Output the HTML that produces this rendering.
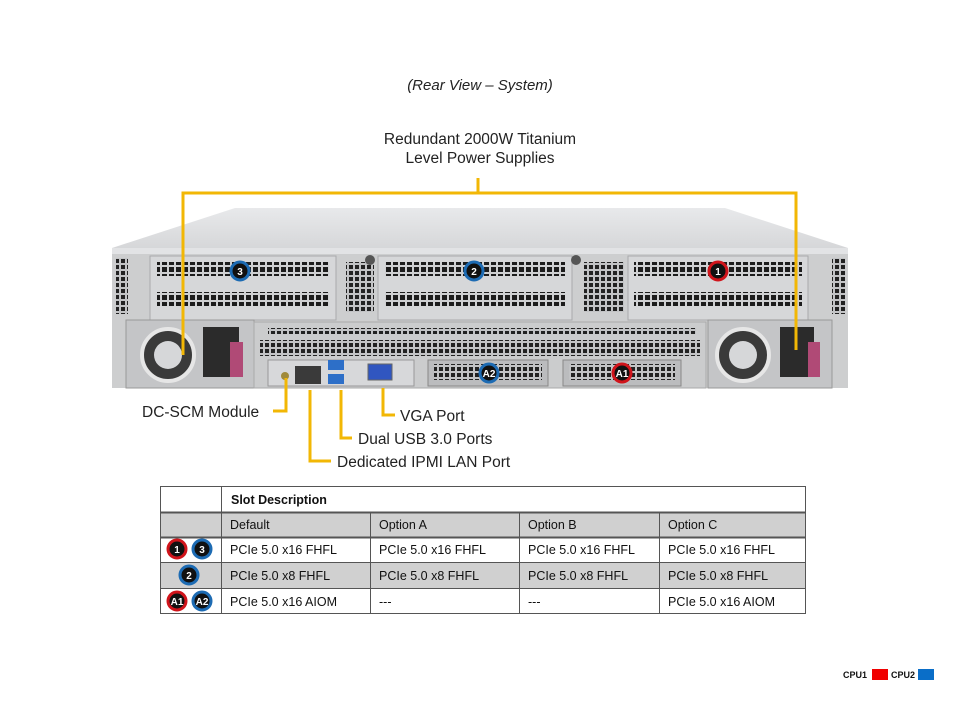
<!DOCTYPE html>
<html><head><meta charset="utf-8"><style>
body{margin:0;background:#fff;}
svg{display:block}
text{font-family:"Liberation Sans",Arial,sans-serif;}
</style></head><body>
<svg width="960" height="720" viewBox="0 0 960 720" xmlns="http://www.w3.org/2000/svg">
<defs>
<pattern id="g" x="0" y="0" width="7" height="7" patternUnits="userSpaceOnUse"><rect width="7" height="7" fill="#cfd0d2"/><rect x="1" y="1" width="5" height="5" fill="#1c1c1c"/></pattern>
<pattern id="g2" x="0" y="0" width="6" height="6" patternUnits="userSpaceOnUse"><rect width="6" height="6" fill="#c2c3c5"/><rect x="1" y="1" width="4" height="4" fill="#222"/></pattern>
<linearGradient id="lid" x1="0" y1="0" x2="0" y2="1"><stop offset="0" stop-color="#e8e9eb"/><stop offset="1" stop-color="#d6d7d9"/></linearGradient>
</defs>
<text x="480" y="90" font-size="15" font-style="italic" text-anchor="middle" fill="#222">(Rear View – System)</text>
<text x="480" y="144" font-size="15.5" text-anchor="middle" fill="#222">Redundant 2000W Titanium</text>
<text x="480" y="163" font-size="15.5" text-anchor="middle" fill="#222">Level Power Supplies</text>

<polygon points="235,208 725,208 848,248 112,248" fill="url(#lid)"/>
<rect x="112" y="248" width="736" height="140" fill="#cdcecf"/>
<rect x="112" y="248" width="736" height="6" fill="#e2e3e5"/>
<rect x="116" y="258" width="12" height="56" fill="url(#g2)"/>
<rect x="832" y="258" width="13" height="56" fill="url(#g2)"/>
<rect x="150" y="256" width="186" height="64" fill="#d6d7d9" stroke="#a9aaac"/>
<rect x="157" y="262" width="172" height="14" fill="url(#g)"/>
<rect x="157" y="292" width="172" height="14" fill="url(#g)"/>
<rect x="346" y="262" width="28" height="50" fill="url(#g2)"/>
<rect x="378" y="256" width="194" height="64" fill="#d6d7d9" stroke="#a9aaac"/>
<rect x="385" y="262" width="180" height="14" fill="url(#g)"/>
<rect x="385" y="292" width="180" height="14" fill="url(#g)"/>
<rect x="584" y="262" width="40" height="50" fill="url(#g2)"/>
<rect x="628" y="256" width="180" height="64" fill="#d6d7d9" stroke="#a9aaac"/>
<rect x="634" y="262" width="168" height="14" fill="url(#g)"/>
<rect x="634" y="292" width="168" height="14" fill="url(#g)"/>
<circle cx="370" cy="260" r="5" fill="#555"/><circle cx="576" cy="260" r="5" fill="#555"/>
<rect x="126" y="320" width="128" height="68" fill="#c4c5c7" stroke="#999"/>
<circle cx="168" cy="355" r="27" fill="#3a3a3a"/><circle cx="168" cy="355" r="14" fill="#d6d7d9"/>
<circle cx="168" cy="355" r="26" fill="none" stroke="#e6e6e6" stroke-width="4"/>
<rect x="203" y="327" width="36" height="50" fill="#2b2b2b"/>
<rect x="230" y="342" width="13" height="35" fill="#b04a76"/>
<rect x="708" y="320" width="124" height="68" fill="#c4c5c7" stroke="#999"/>
<circle cx="743" cy="355" r="27" fill="#3a3a3a"/><circle cx="743" cy="355" r="14" fill="#d6d7d9"/>
<circle cx="743" cy="355" r="26" fill="none" stroke="#e6e6e6" stroke-width="4"/>
<rect x="780" y="327" width="34" height="50" fill="#2b2b2b"/>
<rect x="808" y="342" width="12" height="35" fill="#b04a76"/>
<rect x="254" y="322" width="452" height="66" fill="#cbcccd" stroke="#aaa"/>
<rect x="268" y="328" width="428" height="6" fill="url(#g2)"/>
<rect x="260" y="340" width="440" height="16" fill="url(#g2)"/>
<rect x="268" y="360" width="146" height="26" fill="#d7d8da" stroke="#999"/>
<circle cx="285" cy="376" r="4" fill="#a08a3a"/>
<rect x="295" y="366" width="26" height="18" fill="#3a3a3a"/>
<rect x="328" y="360" width="16" height="10" fill="#2d6fc8"/>
<rect x="328" y="374" width="16" height="10" fill="#2d6fc8"/>
<rect x="368" y="364" width="24" height="16" fill="#3056c0" stroke="#666"/>
<rect x="428" y="360" width="120" height="26" fill="#bbbcbe" stroke="#888"/>
<rect x="434" y="364" width="108" height="16" fill="url(#g2)"/>
<rect x="563" y="360" width="118" height="26" fill="#bbbcbe" stroke="#888"/>
<rect x="569" y="364" width="106" height="16" fill="url(#g2)"/>
<g font-size="10" font-weight="bold" fill="#fff" text-anchor="middle">
<circle cx="240" cy="271" r="9" fill="#111" stroke="#1d6bb3" stroke-width="3"/><text x="240" y="275">3</text>
<circle cx="474" cy="271" r="9" fill="#111" stroke="#1d6bb3" stroke-width="3"/><text x="474" y="275">2</text>
<circle cx="718" cy="271" r="9" fill="#111" stroke="#d0141b" stroke-width="3"/><text x="718" y="275">1</text>
<circle cx="489" cy="373" r="9" fill="#111" stroke="#1d6bb3" stroke-width="3"/><text x="489" y="377">A2</text>
<circle cx="622" cy="373" r="9" fill="#111" stroke="#d0141b" stroke-width="3"/><text x="622" y="377">A1</text>
</g>

<g stroke="#f2b705" stroke-width="3" fill="none">
<line x1="478" y1="178" x2="478" y2="193"/>
<polyline points="183,355 183,193 796,193 796,350"/>
<polyline points="286,378 286,411 273,411"/>
<polyline points="310,390 310,461 331,461"/>
<polyline points="341,390 341,438 352,438"/>
<polyline points="383,388 383,415 395,415"/>
</g>
<g font-size="15.5" fill="#222">
<text x="142" y="417">DC-SCM Module</text>
<text x="400" y="421">VGA Port</text>
<text x="358" y="444">Dual USB 3.0 Ports</text>
<text x="337" y="467">Dedicated IPMI  LAN Port</text>
</g>

<rect x="160" y="512" width="646" height="25" fill="#d0d0d0"/>
<rect x="160" y="562" width="646" height="26" fill="#d0d0d0"/>
<g stroke="#555" stroke-width="1" fill="none">
<rect x="160.5" y="486.5" width="645" height="127"/>
<line x1="160" y1="512.5" x2="806" y2="512.5" stroke-width="2"/>
<line x1="160" y1="537.5" x2="806" y2="537.5" stroke-width="2"/>
<line x1="160" y1="562.5" x2="806" y2="562.5"/>
<line x1="160" y1="588.5" x2="806" y2="588.5"/>
<line x1="221.5" y1="486" x2="221.5" y2="614"/>
<line x1="370.5" y1="512" x2="370.5" y2="614"/>
<line x1="519.5" y1="512" x2="519.5" y2="614"/>
<line x1="659.5" y1="512" x2="659.5" y2="614"/>
</g>
<g font-size="12.5" fill="#111">
<text x="231" y="504" font-weight="bold">Slot Description</text>
<text x="230" y="529">Default</text><text x="379" y="529">Option A</text><text x="528" y="529">Option B</text><text x="668" y="529">Option C</text>
<text x="230" y="554">PCIe 5.0 x16 FHFL</text><text x="379" y="554">PCIe 5.0 x16 FHFL</text><text x="528" y="554">PCIe 5.0 x16 FHFL</text><text x="668" y="554">PCIe 5.0 x16 FHFL</text>
<text x="230" y="580">PCIe 5.0 x8 FHFL</text><text x="379" y="580">PCIe 5.0 x8 FHFL</text><text x="528" y="580">PCIe 5.0 x8 FHFL</text><text x="668" y="580">PCIe 5.0 x8 FHFL</text>
<text x="230" y="606">PCIe 5.0 x16 AIOM</text><text x="379" y="606">---</text><text x="528" y="606">---</text><text x="668" y="606">PCIe 5.0 x16 AIOM</text>
</g>
<g font-size="10" font-weight="bold" fill="#fff" text-anchor="middle">
<circle cx="177" cy="549" r="9" fill="#111" stroke="#d0141b" stroke-width="3"/><text x="177" y="553">1</text>
<circle cx="202" cy="549" r="9" fill="#111" stroke="#1d6bb3" stroke-width="3"/><text x="202" y="553">3</text>
<circle cx="189" cy="575" r="9" fill="#111" stroke="#1d6bb3" stroke-width="3"/><text x="189" y="579">2</text>
<circle cx="177" cy="601" r="9" fill="#111" stroke="#d0141b" stroke-width="3"/><text x="177" y="605">A1</text>
<circle cx="202" cy="601" r="9" fill="#111" stroke="#1d6bb3" stroke-width="3"/><text x="202" y="605">A2</text>
</g>

<text x="843" y="678" font-size="9" font-weight="bold" fill="#111">CPU1</text>
<rect x="872" y="669" width="16" height="11" fill="#f00000"/>
<text x="891" y="678" font-size="9" font-weight="bold" fill="#111">CPU2</text>
<rect x="918" y="669" width="16" height="11" fill="#0a6ec8"/>
</svg>
</body></html>
